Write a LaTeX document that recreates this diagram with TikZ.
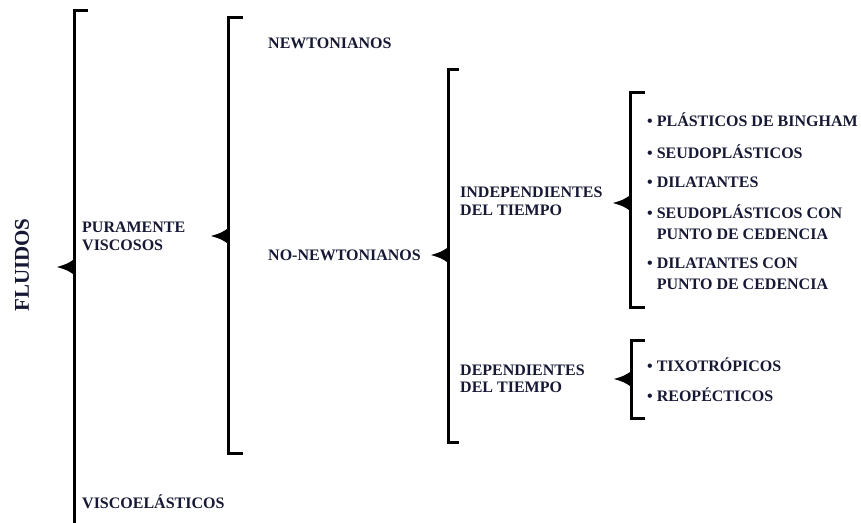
\documentclass[tikz,border=0pt]{standalone}
\usepackage{fontspec}
\setmainfont{Liberation Serif}
\usetikzlibrary{positioning}
\definecolor{fluidink}{RGB}{22, 24, 52}

\begin{document}
\begin{tikzpicture}[
    x=1pt, y=-1pt,
    label/.style={anchor=west, inner sep=0pt, align=left, font=\bfseries\fontsize{16}{17.5}\selectfont, text=fluidink},
    bracket/.style={draw=black, line width=3pt, line join=miter},
    pics/pointer/.style={code={\fill[black] (0,0) .. controls (10,-3) .. (17.5,-8) -- (17.5,8) .. controls (10,3) .. (0,0) -- cycle;}}
]
    \useasboundingbox (0,0) rectangle (861,522);

    % brackets
    \draw[bracket] (88,10) -- (74,10) -- (74,524) -- (88,524);
    \pic at (57,267) {pointer};
    \draw[bracket] (243,17) -- (228,17) -- (228,453) -- (243,453);
    \pic at (211,236) {pointer};
    \draw[bracket] (459,69) -- (448,69) -- (448,442) -- (459,442);
    \pic at (431,255) {pointer};
    \draw[bracket] (645,92) -- (630,92) -- (630,307) -- (645,307);
    \pic at (613,203) {pointer};
    \draw[bracket] (645,340) -- (631,340) -- (631,418) -- (645,418);
    \pic at (614,379) {pointer};

    % labels
    \node[label, anchor=center, rotate=90, font=\bfseries\fontsize{21}{24}\selectfont] (fluidos) at (22,265) {FLUIDOS};
    \node[label] (puros) at (82,236.5) {PURAMENTE\\VISCOSOS};
    \node[label] (viscoel) at (82,502) {VISCOELÁSTICOS};
    \node[label] (newton) at (268,43) {NEWTONIANOS};
    \node[label] (nonewton) at (268,255) {NO-NEWTONIANOS};
    \node[label] (indep) at (460,201.5) {INDEPENDIENTES\\DEL TIEMPO};
    \node[label] (depend) at (460,379) {DEPENDIENTES\\DEL TIEMPO};

    \node[label] (bingham) at (647,120) {• PLÁSTICOS DE BINGHAM};
    \node[label] (seudo) at (647,152) {• SEUDOPLÁSTICOS};
    \node[label] (dilat) at (647,182) {• DILATANTES};
    \node[label, font=\bfseries\fontsize{16}{21}\selectfont] (seudocen) at (647,222.5) {• SEUDOPLÁSTICOS CON\\\phantom{• }PUNTO DE CEDENCIA};
    \node[label, font=\bfseries\fontsize{16}{21}\selectfont] (dilatcen) at (647,274) {• DILATANTES CON\\\phantom{• }PUNTO DE CEDENCIA};
    \node[label] (tixo) at (647,365) {• TIXOTRÓPICOS};
    \node[label] (reo) at (647,395) {• REOPÉCTICOS};
\end{tikzpicture}
\end{document}
